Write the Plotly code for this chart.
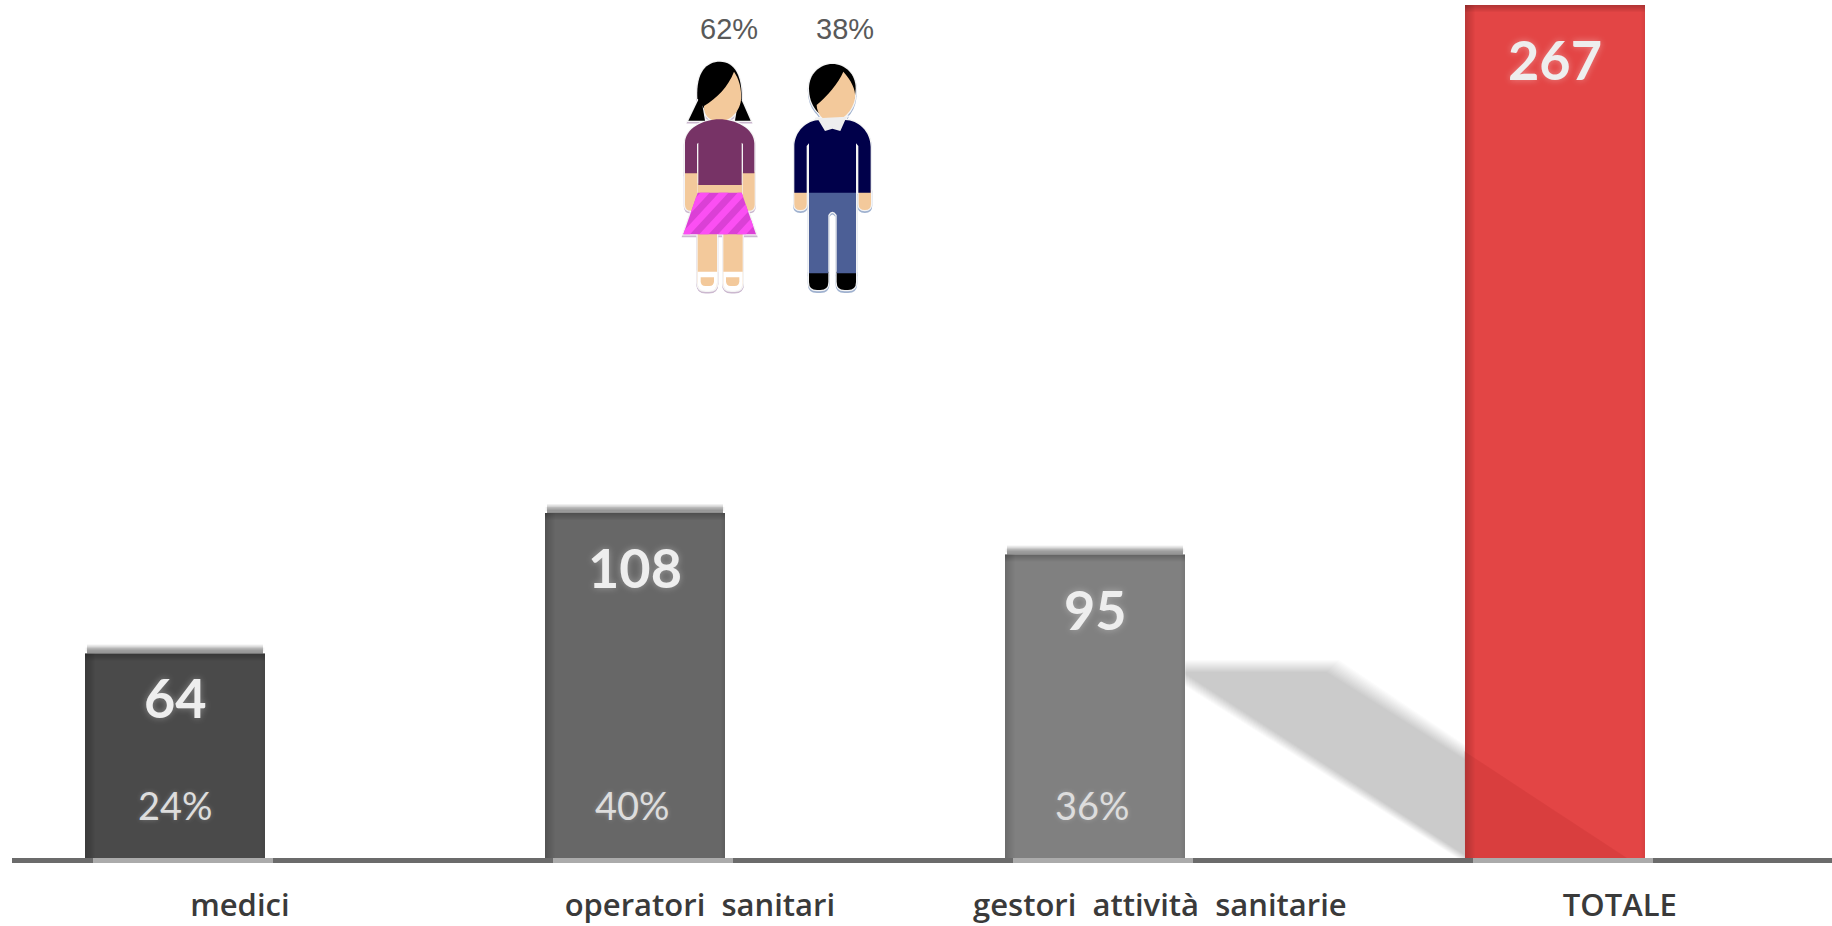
import plotly.graph_objects as go

categories = ["medici", "operatori\u00a0\u00a0sanitari", "gestori\u00a0\u00a0attività\u00a0\u00a0sanitarie", "TOTALE"]
values = [64, 108, 95, 267]
shares = ["24%", "40%", "36%", ""]
bar_colors = ["#4A4A4A", "#676767", "#808080", "#E34545"]
gender_labels = ["62%", "38%"]

W, H = 1832, 926
LEFT, BASE = 12, 858
X0, DX = 175, 460          # pixel centre of first bar, pixels per category
PXY = 3.195                # pixels per unit on the value axis
BW = 180 / DX
positions = list(range(len(values)))
px_x = lambda p: p / DX
px_y = lambda p: p / PXY

fig = go.Figure(go.Bar(x=positions, y=values, width=BW, marker=dict(color=bar_colors, line_width=0), hoverinfo="skip"))
shapes, annotations = [], []


def rect(x0, x1, y0, y1, color, layer="above"):
    shapes.append(dict(type="rect", xref="x", yref="y", x0=x0, x1=x1, y0=y0, y1=y1, fillcolor=color, line_width=0, layer=layer))


def poly_data(points, color, layer):
    path = "M " + " L ".join(f"{x:.4f} {y:.3f}" for x, y in points) + " Z"
    shapes.append(dict(type="path", xref="x", yref="y", path=path, fillcolor=color, line_width=0, layer=layer))


# Soft diagonal cast shadow between the third and fourth bars
def shadow_pts(grow):
    pts = [(1185, 680 + grow), (1185, 666 - grow), (1333 + grow, 666 - grow), (1627 + grow, 858), (1463 - grow, 858)]
    return [((x - X0) / DX, (BASE - y) / PXY) for x, y in pts]


for g in range(6, -7, -1):
    poly_data(shadow_pts(g), "rgba(0,0,0,0.0155)", "below")
red_l = 3 - BW / 2
poly_data([((1464 - X0) / DX, (BASE - 751) / PXY), ((1627 - X0) / DX, 0), (red_l, 0)], "rgba(120,0,0,0.09)", "above")

for i, v in zip(positions, values):
    l, r = i - BW / 2, i + BW / 2
    if i < 3:  # blurred band above the bar
        for k in range(1, 10):
            rect(l + px_x(2), r - px_x(2), v, v + px_y(k), "rgba(0,0,0,0.06)", "below")
        for k in (1, 2, 3):
            rect(l + px_x(2 - k * 0.6), r - px_x(2 - k * 0.6), v + px_y(2), v + px_y(6), "rgba(0,0,0,0.02)", "below")
    for k in range(1, 11):  # inner shading
        rect(l, l + px_x(k), 0, v, "rgba(0,0,0,0.016)")
    for k in range(1, 5):
        rect(r - px_x(k), r, 0, v, "rgba(0,0,0,0.012)")
    for k in range(1, 8):
        rect(l, r, v - px_y(k), v, "rgba(0,0,0,0.03)")
    # lighter piece of the axis under each bar (paper coordinates are not clipped to the plot area)
    shapes.append(dict(type="rect", xref="paper", yref="paper", layer="above", line_width=0, fillcolor="#ABABAB",
                       x0=(X0 + DX * l + 8 - LEFT) / (W - LEFT), x1=(X0 + DX * r + 8 - LEFT) / (W - LEFT),
                       y0=-5 / BASE, y1=0))
    annotations.append(dict(x=i, y=v, xref="x", yref="y", text=f"<b>{v}</b>", showarrow=False, yanchor="middle", yshift=-44 if i == 0 else -55,
                            font=dict(family="Lato", size=54, color="#EEEEEE", shadow="0 0 7px rgba(255,255,255,0.35)")))
    if shares[i]:
        annotations.append(dict(x=i - (0 if i == 0 else 0.006), y=0, xref="x", yref="y", text=shares[i], showarrow=False, yanchor="middle", yshift=53,
                                font=dict(family="Lato", size=38, color="#DDDDDD", shadow="0 0 5px rgba(255,255,255,0.25)")))

# Pictograms, drawn in page pixels through paper coordinates
PX = lambda x: (660 + x / 3 - LEFT) / (W - LEFT)
PY = lambda y: 1 - (y / 3) / BASE


def to_path(cmds):
    out = []
    for c in cmds:
        if isinstance(c, str):
            out.append(c)
        else:
            out.append(f"{PX(c[0]):.5f},{PY(c[1]):.5f}")
    return " ".join(out)


def rr(x0, y0, x1, y1, rb=18, rt=0):
    return ["M", (x0, y0 + rt), "Q", (x0, y0), (x0 + rt, y0), "L", (x1 - rt, y0), "Q", (x1, y0), (x1, y0 + rt), "L", (x1, y1 - rb),
            "Q", (x1, y1), (x1 - rb, y1), "L", (x0 + rb, y1), "Q", (x0, y1), (x0, y1 - rb), "Z"]


SKIN = "#F3C99B"
PURPLE = "#773366"
NAVY = "#00004A"
JEANS = "#4C5F96"

girl = [
    (["M", (85, 362), "L", (122, 285), "L", (135, 362), "Z"], "#000000"),
    (["M", (272, 362), "L", (238, 285), "L", (225, 362), "Z"], "#000000"),
    (["M", (112, 295), "C", (108, 215), (140, 185), (180, 185), "C", (225, 185), (247, 230), (245, 300), "L", (135, 330), "Z"], "#000000"),
    (["M", (222, 215), "C", (236, 235), (246, 265), (243, 300), "C", (238, 340), (205, 365), (178, 365), "C", (150, 365), (130, 345), (132, 318), "C", (170, 295), (205, 260), (222, 215), "Z"], SKIN),
    (rr(75, 515, 112, 632), SKIN),
    (rr(248, 515, 284, 632), SKIN),
    (rr(113, 550, 246, 585, 1), SKIN),
    (["M", (75, 520), "L", (75, 430), "C", (75, 385), (130, 358), (178, 358), "C", (225, 358), (283, 385), (283, 430), "L", (283, 520), "L", (249, 520),
      "L", (249, 432), "L", (245, 428), "L", (245, 555), "L", (115, 555), "L", (115, 428), "L", (111, 432), "L", (111, 520), "Z"], PURPLE),
    (rr(113, 700, 171, 870, 24), SKIN),
    (rr(190, 700, 248, 870, 24), SKIN),
    (rr(113, 815, 171, 872, 24), "#FFFFFF"),
    (rr(190, 815, 248, 872, 24), "#FFFFFF"),
    (rr(122, 832, 162, 858, 14), SKIN),
    (rr(198, 832, 238, 858, 14), SKIN),
    (["M", (113, 578), "L", (245, 578), "L", (288, 703), "L", (70, 703), "Z"], "#DB40D6"),
]
boy = [
    (["M", (447, 265), "C", (447, 222), (480, 192), (517, 192), "C", (555, 192), (587, 222), (587, 265), "C", (587, 320), (550, 355), (517, 355), "C", (480, 355), (447, 320), (447, 265), "Z"], "#000000"),
    (["M", (550, 215), "C", (573, 240), (588, 270), (585, 292), "C", (580, 335), (545, 365), (515, 365), "C", (490, 365), (470, 340), (470, 315), "C", (500, 290), (535, 250), (550, 215), "Z"], SKIN),
    (rr(403, 570, 440, 630), SKIN),
    (rr(596, 570, 633, 630), SKIN),
    (rr(447, 815, 505, 870, 24), "#000000"),
    (rr(530, 815, 588, 870, 24), "#000000"),
    (["M", (447, 575), "L", (588, 575), "L", (588, 820), "L", (530, 820), "L", (530, 645), "Q", (517, 625), (505, 645), "L", (505, 820), "L", (447, 820), "Z"], JEANS),
    (["M", (403, 578), "L", (403, 440), "C", (403, 395), (440, 360), (480, 360), "L", (555, 360), "C", (595, 360), (632, 395), (632, 440), "L", (632, 578), "L", (595, 578),
      "L", (595, 438), "L", (588, 430), "L", (588, 578), "L", (447, 578), "L", (447, 430), "L", (440, 438), "L", (440, 578), "Z"], NAVY),
    (["M", (472, 355), "L", (560, 350), "L", (541, 393), "L", (517, 386), "L", (495, 393), "Z"], "#EEEEEE"),
]


def add_figure(parts, halo):
    for cmds, _ in parts:  # pale outline behind the pictogram
        shifted = [c if isinstance(c, str) else (c[0], c[1] + 5) for c in cmds]
        shapes.append(dict(type="path", xref="paper", yref="paper", path=to_path(shifted), fillcolor=halo, line=dict(color=halo, width=2.5), layer="below"))
    for cmds, _ in parts:
        shapes.append(dict(type="path", xref="paper", yref="paper", path=to_path(cmds), fillcolor="#F4F4F4", line=dict(color="#F4F4F4", width=2.5), layer="below"))
    for cmds, col in parts:
        shapes.append(dict(type="path", xref="paper", yref="paper", path=to_path(cmds), fillcolor=col, line_width=0, layer="above"))


add_figure(girl, "#CBB8CF")
add_figure(boy, "#9FB1CF")


# Skirt stripes, clipped to the trapezoid
def clip(poly, inside, cross):
    out = []
    for a, b in zip(poly, poly[1:] + poly[:1]):
        if inside(a):
            out.append(a)
        if inside(a) != inside(b):
            out.append(cross(a, b))
    return out


def side(sign):
    # signed distance to slanted skirt sides
    if sign < 0:
        f = lambda p: (p[0] - 113) + (p[1] - 578) * 43 / 125
    else:
        f = lambda p: (245 - p[0]) + (p[1] - 578) * 43 / 125
    def cross(a, b):
        t = f(a) / (f(a) - f(b))
        return (a[0] + (b[0] - a[0]) * t, a[1] + (b[1] - a[1]) * t)
    return (lambda p: f(p) >= 0), cross


for s in range(-1, 6):
    x0 = 62 + s * 56
    st = [(x0, 703), (x0 + 28, 703), (x0 + 28 + 115, 578), (x0 + 115, 578)]
    for ins, cr in (side(-1), side(1)):
        st = clip(st, ins, cr) if st else st
    if len(st) > 2:
        cmds = ["M", st[0]] + sum((["L", p] for p in st[1:]), []) + ["Z"]
        shapes.append(dict(type="path", xref="paper", yref="paper", path=to_path(cmds), fillcolor="#FB4FF3", line_width=0, layer="above"))

for lab, x in zip(gender_labels, (729, 845)):
    annotations.append(dict(x=(x - LEFT) / (W - LEFT), y=1 - 29 / BASE, xref="paper", yref="paper", text=lab, showarrow=False, yanchor="middle",
                            font=dict(family="Liberation Sans", size=29, color="#595959")))

fig.update_layout(
    width=W, height=H, margin=dict(l=LEFT, r=0, t=0, b=H - BASE, pad=0),
    paper_bgcolor="white", plot_bgcolor="white", showlegend=False,
    shapes=shapes, annotations=annotations,
    xaxis=dict(range=[(LEFT - X0) / DX, (W - X0) / DX], automargin=False, showgrid=False, zeroline=False, showline=True, linecolor="#6B6B6B", linewidth=5,
               tickmode="array", tickvals=[p + 0.141 for p in positions], ticktext=categories, ticks="outside", ticklen=16, tickcolor="rgba(0,0,0,0)",
               tickangle=0, tickfont=dict(family="Open Sans", size=31, color="#3A3A3A", weight=600)),
    yaxis=dict(range=[0, BASE / PXY], visible=False, automargin=False),
)
fig.write_html("out.html", config=dict(displayModeBar=False), post_script="document.body.style.margin='0';document.documentElement.style.overflow='hidden';")
